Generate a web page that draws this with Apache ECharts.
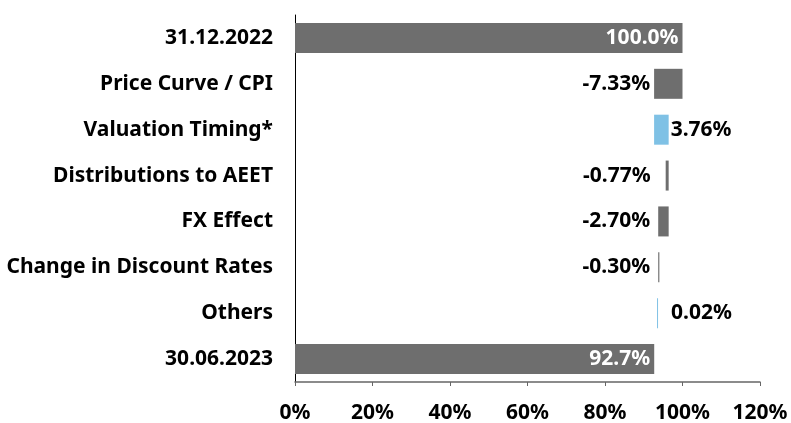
<!DOCTYPE html>
<html>
<head>
    <title>Waterfall 31.12.2022 - 30.06.2023</title>
    <script src="https://cdn.jsdelivr.net/npm/echarts@6/dist/echarts.min.js"></script>
</head>
<body style="margin:0">
    <div id="chart" style="width: 791px; height: 423px;"></div>
    <script>
        // categories top to bottom
        var categories = ['31.12.2022', 'Price Curve / CPI', 'Valuation Timing*', 'Distributions to AEET',
                          'FX Effect', 'Change in Discount Rates', 'Others', '30.06.2023'];
        // change shown in the label (%)
        var changes = [100.0, -7.33, 3.76, -0.77, -2.70, -0.30, 0.02, 92.7];
        // where each bar starts (%)
        var starts = [0, 92.67, 92.67, 95.66, 93.73, 93.73, 93.43, 0];
        var xTicks = [0, 20, 40, 60, 80, 100, 120];

        var grey = '#6e6e6e';
        var blue = '#7fc1e5';

        function labelText(i) {
            var v = changes[i];
            if (i === 0 || i === changes.length - 1) return v.toFixed(1) + '%';
            return v.toFixed(2) + '%';
        }

        // gap between bar and label, so labels line up like the original
        var labelGap = [0, 4, 2, 15, 8, 8, 13, 0];

        var barData = changes.map(function (v, i) {
            var total = (i === 0 || i === changes.length - 1);
            return {
                value: Math.abs(v),
                itemStyle: { color: (!total && v > 0) ? blue : grey },
                label: {
                    show: true,
                    formatter: labelText(i),
                    position: total ? 'insideRight' : (v < 0 ? 'left' : 'right'),
                    color: total ? '#fff' : '#000',
                    distance: total ? 4 : labelGap[i]
                }
            };
        });

        var chart = echarts.init(document.querySelector('#chart'));
        chart.setOption({
            animation: false,
            textStyle: { fontFamily: 'Noto Sans' },
            grid: { left: 295, right: 31, top: 15, bottom: 41, containLabel: false, outerBoundsMode: 'none' },
            xAxis: {
                type: 'value',
                min: 0,
                max: 120,
                interval: 20,
                axisLine: { show: true, lineStyle: { color: '#666', width: 1.5 } },
                axisTick: { show: true, length: 4, lineStyle: { color: '#666' } },
                splitLine: { show: false },
                axisLabel: {
                    formatter: function (v) { return xTicks.indexOf(v) >= 0 ? v + '%' : ''; },
                    fontSize: 21, fontWeight: 'bold', color: '#000', margin: 12
                }
            },
            yAxis: {
                type: 'category',
                inverse: true,
                data: categories,
                axisLine: { show: true, lineStyle: { color: '#000', width: 1 } },
                axisTick: { show: false },
                axisLabel: { interval: 0, fontSize: 21, fontWeight: 'bold', color: '#000', margin: 22 }
            },
            series: [
                {
                    name: 'base',
                    type: 'bar',
                    stack: 'w',
                    data: starts,
                    itemStyle: { color: 'transparent' },
                    barWidth: 30,
                    silent: true
                },
                {
                    name: 'change',
                    type: 'bar',
                    stack: 'w',
                    data: barData,
                    barWidth: 30,
                    barMinHeight: 1,
                    label: { fontSize: 21, fontWeight: 'bold' }
                }
            ]
        });
    </script>
</body>
</html>
